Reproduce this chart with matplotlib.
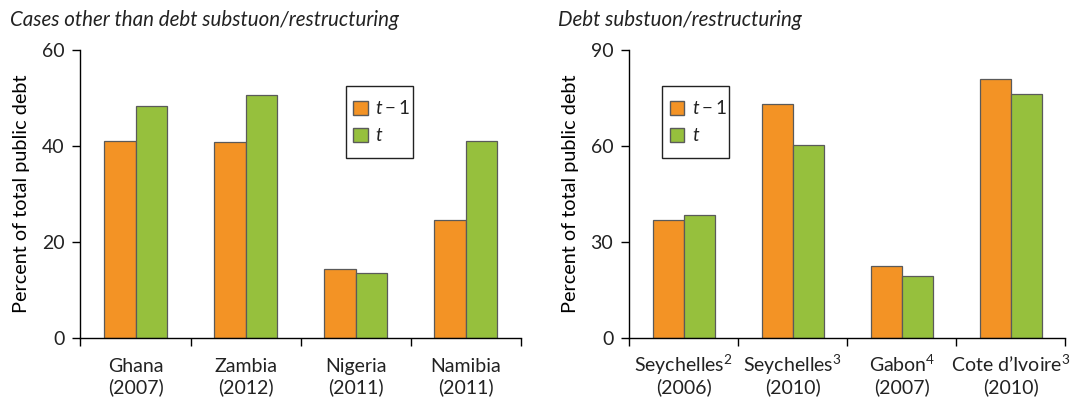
import matplotlib.pyplot as plt
import numpy as np
from matplotlib.patches import Patch, Rectangle

plt.rcParams['font.family'] = ['Lato', 'DejaVu Sans']
plt.rcParams['mathtext.fontset'] = 'custom'
plt.rcParams['mathtext.rm'] = 'Lato'
plt.rcParams['mathtext.it'] = 'Lato:italic'
plt.rcParams['text.color'] = '#222222'
plt.rcParams['xtick.labelcolor'] = '#222222'
plt.rcParams['ytick.labelcolor'] = '#222222'

ORANGE = '#F39325'
GREEN = '#96C03D'
EDGE = '#5a5a5a'

# left panel: cases other than debt substitution/restructuring
left_title = 'Cases other than debt substuon/restructuring'
left_names = ['Ghana', 'Zambia', 'Nigeria', 'Namibia']
left_years = ['(2007)', '(2012)', '(2011)', '(2011)']
left_prev = [41.1, 40.8, 14.4, 24.5]
left_curr = [48.3, 50.6, 13.5, 41.1]
left_ticks = [0, 20, 40, 60]

# right panel: debt substitution/restructuring
right_title = 'Debt substuon/restructuring'
right_names = ['Seychelles$^{2}$', 'Seychelles$^{3}$', 'Gabon$^{4}$', 'Cote d\u2019Ivoire$^{3}$']
right_years = ['(2006)', '(2010)', '(2007)', '(2010)']
right_prev = [36.8, 73.0, 22.5, 81.0]
right_curr = [38.5, 60.2, 19.3, 76.2]
right_ticks = [0, 30, 60, 90]

legend_labels = ['$t-1$', '$t$']


def draw_panel(ax, names, years, prev, curr, ticks, box_x):
    x = np.arange(len(names))
    w = 0.285
    ax.bar(x - w / 2, prev, w, color=ORANGE, edgecolor=EDGE, linewidth=0.9)
    ax.bar(x + w / 2, curr, w, color=GREEN, edgecolor=EDGE, linewidth=0.9)

    ax.set_xlim(-0.5, len(names) - 0.5)
    ax.set_ylim(0, ticks[-1])
    ax.set_yticks(ticks)
    ax.set_xticks(np.arange(-0.5, len(names)))
    ax.set_xticklabels([])
    ax.tick_params(axis='x', length=6, width=1, direction='out')
    ax.tick_params(axis='y', length=5.5, width=1, labelsize=14, pad=6)
    # two-line category labels, placed on fixed baselines
    for i in x:
        ax.annotate(names[i], xy=(i, 0), xycoords=('data', 'axes fraction'),
                    xytext=(0, -24.3), textcoords='offset points',
                    ha='center', va='baseline', fontsize=14)
        ax.annotate(years[i], xy=(i, 0), xycoords=('data', 'axes fraction'),
                    xytext=(0, -39.6), textcoords='offset points',
                    ha='center', va='baseline', fontsize=14)
    for s in ['top', 'right']:
        ax.spines[s].set_visible(False)
    for s in ['left', 'bottom']:
        ax.spines[s].set_linewidth(1)
    ax.set_ylabel('Percent of total public debt', fontsize=14.3, va='center')
    ax.yaxis.set_label_coords(-0.134, 0.5)

    # legend box: frame drawn separately so padding can differ by direction
    bw = 67 / ax.bbox.width
    bh = 72 / ax.bbox.height
    ax.add_patch(Rectangle((box_x, 0.875 - bh), bw, bh, transform=ax.transAxes,
                           facecolor='white', edgecolor='#222222', linewidth=1,
                           zorder=4, clip_on=False))
    handles = [Patch(facecolor=ORANGE, edgecolor=EDGE),
               Patch(facecolor=GREEN, edgecolor=EDGE)]
    leg = ax.legend(handles, legend_labels, loc='center left',
                    bbox_to_anchor=(box_x + 7.3 / ax.bbox.width, 0.875 - bh / 2),
                    borderaxespad=0, borderpad=0, frameon=False, fontsize=13.5,
                    handlelength=0.77, handleheight=0.77,
                    labelspacing=0.55, handletextpad=0.4)
    leg.set_zorder(5)


fig = plt.figure(figsize=(10.73, 4.01), dpi=100)
ax1 = fig.add_axes([0.075, 0.157, 0.4103, 0.719])
ax2 = fig.add_axes([0.5865, 0.157, 0.4063, 0.719])

draw_panel(ax1, left_names, left_years, left_prev, left_curr, left_ticks, 0.603)
draw_panel(ax2, right_names, right_years, right_prev, right_curr, right_ticks, 0.076)

fig.text(0.0096, 0.935, left_title, fontsize=14.8, style='italic', va='baseline', ha='left')
fig.text(0.52, 0.935, right_title, fontsize=14.8, style='italic', va='baseline', ha='left')

fig.savefig('out.png', dpi=100)
